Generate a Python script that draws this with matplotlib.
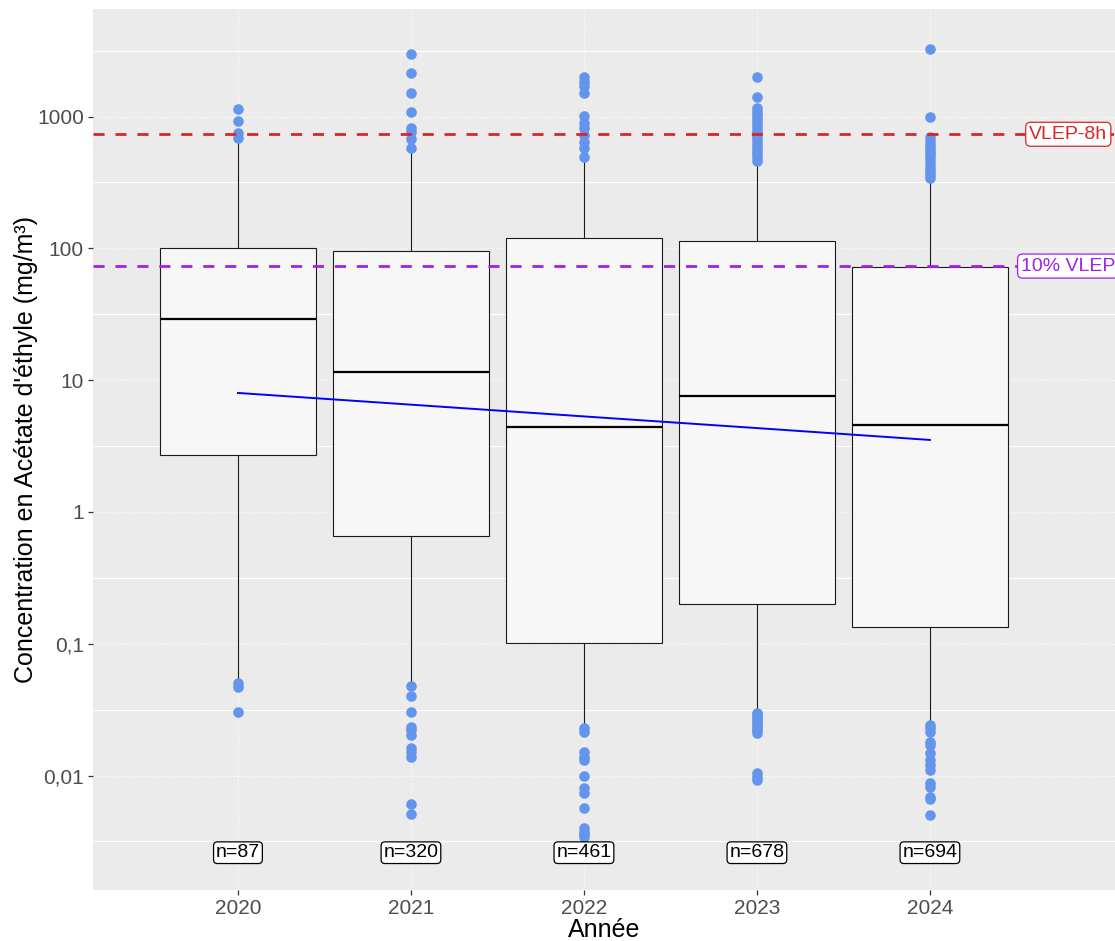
import matplotlib
matplotlib.use("Agg")
import matplotlib.pyplot as plt
from matplotlib.ticker import FixedLocator, FuncFormatter
import numpy as np

plt.rcParams['font.family'] = ['Liberation Sans', 'DejaVu Sans']

# --- data -------------------------------------------------------------
years = ["2020", "2021", "2022", "2023", "2024"]
counts = [87, 320, 461, 678, 694]

q1 = [2.71, 0.657, 0.101, 0.200, 0.134]
medians = [29.1, 11.5, 4.42, 7.59, 4.57]
q3 = [100.0, 95.5, 120.0, 114.0, 72.3]
whisker_low = [0.055, 0.049, 0.0242, 0.0315, 0.0255]
whisker_high = [653.0, 530.0, 469.0, 429.0, 319.0]

outliers_2020 = [1142, 927, 751, 689, 0.050, 0.047, 0.0304]
outliers_2021 = [2985, 2143, 1511, 1084, 819, 764, 676, 578,
                 0.0479, 0.0402, 0.0304, 0.0234, 0.0222, 0.0203,
                 0.0162, 0.0151, 0.0138, 0.0061, 0.0051]
outliers_2022 = [1995, 1834, 1706, 1510, 1011, 894, 819, 724, 642, 578, 494,
                 0.0230, 0.0215, 0.0151, 0.0138, 0.0132, 0.0100, 0.0081,
                 0.0074, 0.0057, 0.0040, 0.0037, 0.0036, 0.0034]
outliers_2023 = [1995, 1409, 1161, 1100, 1040, 990, 940, 890, 850, 800, 760,
                 720, 690, 650, 610, 580, 550, 520, 490, 460,
                 0.0300, 0.0290, 0.0280, 0.0270, 0.0260, 0.0250, 0.0240,
                 0.0230, 0.0220, 0.0210, 0.0105, 0.0098, 0.0093]
outliers_2024 = [3258, 993, 700, 650, 610, 580, 550, 520, 490, 460, 430,
                 400, 380, 360, 342,
                 0.0242, 0.0230, 0.0215, 0.0180, 0.0170, 0.0148, 0.0132,
                 0.0120, 0.0111, 0.0088, 0.0082, 0.0069, 0.0066, 0.0050]
outliers = [outliers_2020, outliers_2021, outliers_2022, outliers_2023, outliers_2024]

trend = [8.0, 6.52, 5.31, 4.33, 3.52]

vlep_8h = 734.0
vlep_10pct = 73.4
n_label_y = 0.0026

y_ticks = [0.01, 0.1, 1, 10, 100, 1000]

# --- figure -------------------------------------------------------------
W, H = 1115, 941
fig = plt.figure(figsize=(W / 100, H / 100), dpi=100)
ax = fig.add_axes([93 / W, (H - 890) / H, 1 - 93 / W, (890 - 9) / H])
ax.set_facecolor("#EBEBEB")
for s in ax.spines.values():
    s.set_visible(False)

ax.set_yscale("log")
ax.set_ylim(0.001355, 6548)
ax.set_xlim(0.162, 6.07)

# grid: dotted majors, solid minors at half decades
for yv in y_ticks:
    ax.axhline(yv, color="white", lw=0.8, ls=(0, (1, 2)), zorder=0)
for k in range(-3, 4):
    ax.axhline(10 ** (k + 0.5), color="white", lw=0.8, zorder=0)
positions = np.arange(1, len(years) + 1)
for xp in positions:
    ax.axvline(xp, color="white", lw=0.8, ls=(0, (1, 2)), zorder=0)

stats = []
for i in range(len(years)):
    stats.append(dict(med=medians[i], q1=q1[i], q3=q3[i],
                      whislo=whisker_low[i], whishi=whisker_high[i],
                      fliers=outliers[i], label=years[i]))

ax.bxp(stats, positions=positions, widths=0.9, showcaps=False, patch_artist=True,
       boxprops=dict(facecolor="#F7F7F7", edgecolor="#1A1A1A", linewidth=0.8),
       medianprops=dict(color="black", linewidth=1.6),
       whiskerprops=dict(color="#1A1A1A", linewidth=0.8),
       flierprops=dict(marker="o", markerfacecolor="#6495ED", markeredgecolor="#6495ED",
                       markersize=6.6, linestyle="none"),
       zorder=2)

# regression trend
ax.plot(positions, trend, color="#0000FF", lw=1.4, zorder=3)

# exposure limits
ax.axhline(vlep_8h, color="#D62728", lw=2.0, ls=(0, (4, 3.9)), zorder=4)
ax.axhline(vlep_10pct, color="#A020F0", lw=2.0, ls=(0, (4, 3.9)), zorder=4)
ax.text(5.8, vlep_8h, "VLEP-8h", color="#D62728", fontsize=14, ha="center", va="center",
        zorder=6, bbox=dict(boxstyle="round,pad=0.18,rounding_size=0.25",
                            facecolor="white", edgecolor="#D62728", linewidth=0.9))
ax.text(5.8, vlep_10pct, "10% VLEP", color="#A020F0", fontsize=14, ha="center", va="center",
        zorder=6, bbox=dict(boxstyle="round,pad=0.18,rounding_size=0.25",
                            facecolor="white", edgecolor="#A020F0", linewidth=0.9))

# sample sizes
for xp, n in zip(positions, counts):
    ax.text(xp, n_label_y, f"n={n}", color="black", fontsize=14, ha="center", va="center",
            zorder=6, bbox=dict(boxstyle="round,pad=0.12,rounding_size=0.2",
                                facecolor="white", edgecolor="black", linewidth=0.9))

# axes
ax.set_xticks(positions)
ax.set_xticklabels(years)
ax.yaxis.set_major_locator(FixedLocator(y_ticks))
ax.yaxis.set_minor_locator(FixedLocator([]))
ax.yaxis.set_major_formatter(FuncFormatter(lambda v, p: f"{v:g}".replace(".", ",")))
ax.tick_params(axis="both", which="major", length=3.5, width=0.9, color="#333333",
               labelsize=15, labelcolor="#4D4D4D", pad=3)
ax.set_xlabel("Année", fontsize=18, color="black", labelpad=0)
ax.set_ylabel("Concentration en Acétate d'éthyle (mg/m³)", fontsize=18, color="black", labelpad=-1)

fig.savefig("out.png", dpi=100)
